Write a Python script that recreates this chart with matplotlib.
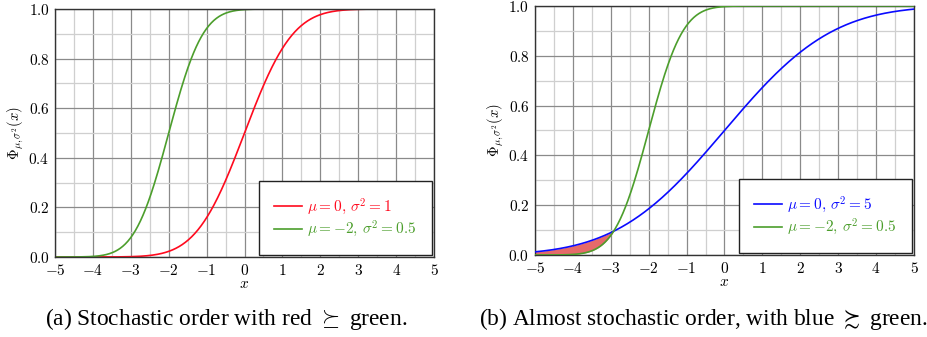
import math
import numpy as np
import matplotlib
matplotlib.use("Agg")
import matplotlib.pyplot as plt

plt.rcParams['mathtext.fontset'] = 'cm'
plt.rcParams['font.family'] = ['Liberation Serif', 'DejaVu Serif']

# distribution parameters (mu, sigma^2) read from the legends
left_mu = [0, -2]
left_var = [1, 0.5]
left_colors = ['#ff0a1e', '#4c9e2c']
left_labels = [r'$\mu = 0,\, \sigma^2 = 1$', r'$\mu = -2,\, \sigma^2 = 0.5$']

right_mu = [0, -2]
right_var = [5, 0.5]
right_colors = ['#0a0aff', '#4c9e2c']
right_labels = [r'$\mu = 0,\, \sigma^2 = 5$', r'$\mu = -2,\, \sigma^2 = 0.5$']

xticks = [-5, -4, -3, -2, -1, 0, 1, 2, 3, 4, 5]
yticks = [0.0, 0.2, 0.4, 0.6, 0.8, 1.0]
captions = [r'(a) Stochastic order with red $\succeq$ green.',
            r'(b) Almost stochastic order, with blue $\succsim$ green.']

x = np.linspace(-5, 5, 600)
erf = np.frompyfunc(math.erf, 1, 1)


def cdf(mu, var):
    return (0.5 * (1 + erf((x - mu) / math.sqrt(2 * var)))).astype(float)


def style(ax):
    ax.set_xlim(-5, 5)
    ax.set_ylim(0, 1)
    ax.set_xticks(xticks)
    ax.set_xticklabels([f'${v}$' for v in xticks])
    ax.set_yticks(yticks)
    ax.set_yticklabels([f'${v:.1f}$' for v in yticks])
    ax.set_xticks(np.arange(-4.5, 5, 1.0), minor=True)
    ax.set_yticks(np.arange(0.1, 1, 0.2), minor=True)
    ax.grid(which='major', color='#8a8a8a', lw=0.9)
    ax.grid(which='minor', color='#cfcfcf', lw=0.9)
    ax.tick_params(which='both', length=0, labelsize=11, pad=4)
    ax.set_axisbelow(True)
    for s in ax.spines.values():
        s.set_color('#333333')
        s.set_linewidth(1.0)
    ax.set_xlabel('$x$', fontsize=11, labelpad=0.5)
    ax.set_ylabel(r'$\Phi_{\mu,\sigma^2}(x)$', fontsize=10.5, labelpad=2)


fig = plt.figure(figsize=(9.28, 3.37), dpi=100)
ax1 = fig.add_axes([0.0593, 0.2374, 0.4084, 0.7359])
ax2 = fig.add_axes([0.5765, 0.2433, 0.4084, 0.739])

for mu, var, c, lab in zip(left_mu, left_var, left_colors, left_labels):
    ax1.plot(x, cdf(mu, var), color=c, lw=1.2, label=lab)

curves = []
for mu, var, c, lab in zip(right_mu, right_var, right_colors, right_labels):
    y = cdf(mu, var)
    curves.append(y)
    ax2.plot(x, y, color=c, lw=1.2, label=lab, zorder=3)
ax2.fill_between(x, curves[1], curves[0], where=curves[0] >= curves[1],
                 color='#e66a6a', lw=0, zorder=2)

for ax in (ax1, ax2):
    style(ax)
    leg = ax.legend(loc='lower right', fontsize=11, fancybox=False,
                    edgecolor='#222222', framealpha=1, labelcolor='linecolor',
                    handlelength=1.8, handletextpad=0.35, borderpad=1.0,
                    borderaxespad=0.15, labelspacing=0.15)
    leg.get_frame().set_linewidth(1.0)

fig.text(0.244, 0.036, captions[0], ha='center', va='baseline', fontsize=16.8)
fig.text(0.758, 0.036, captions[1], ha='center', va='baseline', fontsize=16.8)

fig.savefig('out.png', dpi=100)
